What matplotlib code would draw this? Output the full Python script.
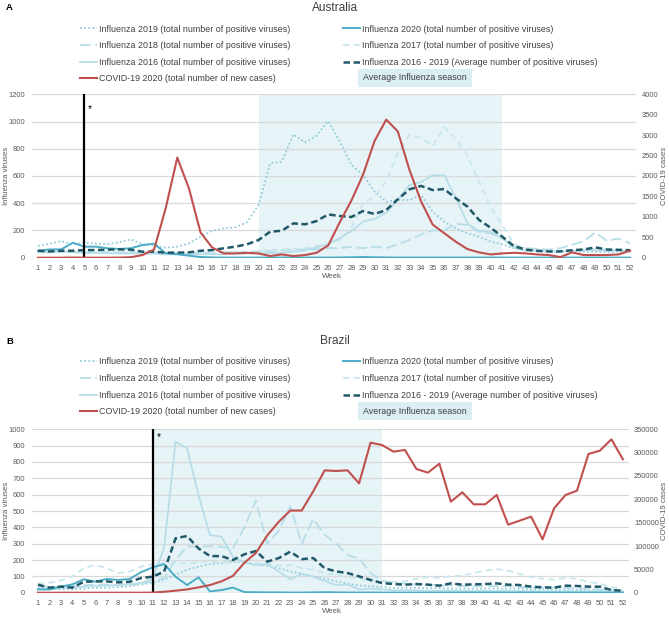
import matplotlib
matplotlib.use("Agg")
import matplotlib.pyplot as plt
from matplotlib import font_manager
import numpy as np

# ---- fonts ----
names = {f.name for f in font_manager.fontManager.ttflist}
if "Liberation Sans Narrow" in names:
    plt.rcParams["font.family"] = ["Liberation Sans Narrow", "DejaVu Sans"]
    fs = 7.8
else:
    plt.rcParams["font.family"] = ["Liberation Sans", "DejaVu Sans"]
    fs = 6.4

weeks = np.arange(1, 53)

# ---- Australia ----
aus_2019 = [86, 103, 122, 98, 110, 103, 100, 113, 135, 98,
            88, 73, 81, 105, 154, 198, 215, 223, 260, 387,
            693, 705, 906, 847, 896, 1004, 852, 681, 607, 485,
            411, 424, 424, 460, 338, 264, 215, 179, 154, 118,
            98, 69, 56, 51, 44, 44, 47, 44, 44, 39,
            44, 49]
aus_2018 = [45, 45, 45, 40, 40, 40, 40, 40, 40, 35,
            35, 35, 35, 35, 35, 35, 40, 40, 40, 45,
            50, 55, 60, 60, 60, 70, 70, 80, 70, 80,
            70, 100, 130, 170, 200, 200, 250, 240, 190, 180,
            140, 80, 70, 65, 60, 70, 95, 120, 185, 125,
            140, 105]
aus_2017 = [50, 45, 45, 45, 40, 40, 40, 40, 40, 40,
            40, 35, 35, 35, 40, 40, 40, 45, 45, 50,
            55, 60, 65, 70, 85, 100, 130, 220, 400, 450,
            560, 770, 900, 880, 820, 960, 870, 750, 560, 370,
            240, 100, 70, 60, 55, 50, 55, 60, 65, 60,
            55, 50]
aus_2016 = [40, 40, 45, 40, 35, 35, 35, 30, 30, 30,
            30, 25, 25, 25, 25, 25, 25, 30, 30, 30,
            35, 35, 45, 55, 75, 100, 145, 195, 265, 285,
            330, 425, 535, 555, 605, 605, 440, 250, 195, 190,
            145, 70, 50, 50, 45, 45, 50, 55, 55, 50,
            50, 45]
aus_2020 = [51, 61, 61, 110, 81, 81, 69, 64, 69, 93,
            103, 32, 25, 15, 5, 2, 1, 1, 1, 1,
            1, 1, 1, 1, 1, 1, 2, 3, 5, 3,
            2, 1, 1, 1, 1, 1, 1, 1, 1, 1,
            1, 1, 1, 1, 1, 1, 1, 1, 1, 1,
            1, 1]
aus_avg = [51, 46, 51, 51, 56, 56, 59, 61, 59, 44,
           44, 37, 37, 39, 51, 56, 69, 81, 98, 130,
           191, 198, 252, 245, 269, 318, 306, 299, 343, 321,
           350, 429, 502, 527, 497, 504, 436, 375, 277, 220,
           154, 85, 60, 50, 46, 46, 55, 60, 76, 60,
           58, 55]
aus_covid = [0, 0, 0, 4, 1, 0, 0, 3, 12, 65,
             200, 1210, 2450, 1700, 620, 250, 105, 105, 120, 105,
             40, 80, 40, 65, 120, 300, 870, 1400, 2030, 2860,
             3380, 3090, 2150, 1380, 810, 600, 390, 210, 130, 80,
             105, 120, 105, 80, 65, 15, 130, 65, 65, 65,
             80, 170]

# ---- Brazil ----
bra_2019 = [25, 25, 20, 20, 25, 30, 30, 35, 40, 50,
            60, 80, 110, 140, 160, 175, 180, 190, 185, 175,
            165, 150, 130, 115, 100, 85, 70, 55, 45, 40,
            35, 30, 30, 30, 28, 28, 25, 25, 25, 25,
            25, 25, 25, 22, 20, 20, 18, 18, 15, 15,
            12, 10]
bra_2018 = [40, 35, 35, 40, 45, 50, 50, 45, 45, 55,
            70, 90, 200, 285, 280, 285, 280, 270, 400, 565,
            300, 380, 530, 300, 450, 355, 300, 230, 210, 120,
            75, 60, 55, 50, 50, 45, 45, 40, 40, 40,
            40, 40, 35, 30, 30, 30, 30, 25, 25, 20,
            20, 15]
bra_2017 = [55, 60, 75, 100, 150, 170, 150, 120, 130, 160,
            175, 180, 180, 180, 185, 185, 185, 190, 185, 180,
            180, 165, 170, 150, 140, 120, 110, 95, 85, 75,
            70, 65, 70, 85, 95, 90, 100, 105, 120, 135,
            145, 135, 115, 95, 85, 80, 90, 85, 65, 55,
            35, 25]
bra_2016 = [27, 20, 27, 33, 37, 43, 43, 47, 53, 60,
            85, 275, 924, 883, 598, 353, 343, 220, 184, 169,
            175, 129, 82, 114, 98, 71, 47, 50, 20, 25,
            20, 15, 15, 15, 12, 12, 12, 10, 10, 10,
            10, 10, 10, 10, 8, 8, 8, 8, 8, 8,
            8, 5]
bra_2020 = [20, 20, 37, 51, 82, 67, 84, 78, 84, 126,
            155, 175, 98, 47, 94, 8, 16, 31, 4, 3,
            2, 2, 1, 1, 2, 3, 2, 1, 1, 1,
            1, 1, 1, 1, 1, 1, 1, 1, 1, 1,
            1, 1, 1, 1, 1, 1, 1, 1, 1, 1,
            1, 1]
bra_avg = [49, 31, 37, 31, 67, 69, 69, 63, 67, 90,
           98, 129, 333, 347, 271, 224, 224, 200, 235, 255,
           190, 212, 251, 205, 212, 150, 130, 120, 100, 78,
           59, 53, 49, 53, 49, 43, 57, 49, 51, 53,
           57, 49, 47, 37, 33, 31, 43, 41, 37, 37,
           16, 12]
bra_covid = [0, 0, 0, 0, 0, 0, 0, 0, 1, 20,
             200, 2000, 4300, 7100, 11400, 16400, 24300, 36000, 64000, 85000,
             123000, 152000, 176000, 176000, 217000, 262000, 260700, 262100, 234300, 321400,
             316400, 302100, 305700, 265000, 257100, 276400, 195000, 215000, 189300, 189300,
             209300, 145700, 154300, 162900, 114300, 180700, 209300, 218600, 297100, 304300,
             328600, 285700]

labels = ["Influenza 2019 (total number of positive viruses)",
          "Influenza 2018 (total number of positive viruses)",
          "Influenza 2016 (total number of positive viruses)",
          "COVID-19 2020 (total number of new cases)",
          "Influenza 2020 (total number of positive viruses)",
          "Influenza 2017 (total number of positive viruses)",
          "Influenza 2016 - 2019 (Average number of positive viruses)"]

W, H = 669, 618
fig = plt.figure(figsize=(W / 100, H / 100), dpi=100)
tick_col = "#595959"


def panel(rect, series, covid, ymax, ystep, cmax, cstep, season, vweek, star,
          title, letter, top):
    s2019, s2018, s2017, s2016, s2020, savg = series
    ax = fig.add_axes(rect)
    ax.axvspan(season[0], season[1], color="#DAEEF3", alpha=0.65, lw=0, zorder=0)
    ax.set_axisbelow(True)
    ax.grid(axis="y", color="#D9D9D9", lw=0.9)
    h19, = ax.plot(weeks, s2019, color="#92CDDC", lw=1.3, dashes=(1, 1.3))
    h18, = ax.plot(weeks, s2018, color="#B7DEE8", lw=1.3, dashes=(6, 2.4))
    h17, = ax.plot(weeks, s2017, color="#C8E6EE", lw=1.3, dashes=(3.5, 2.4))
    h16, = ax.plot(weeks, s2016, color="#B7DEE8", lw=1.3)
    h20, = ax.plot(weeks, s2020, color="#4BACC6", lw=1.4)
    hav, = ax.plot(weeks, savg, color="#215968", lw=1.8, dashes=(2.6, 1.4))
    ax.axvline(vweek, color="black", lw=1.6, zorder=6)
    ax.text(star[0], star[1], "*", fontsize=fs + 1, ha="center", va="center")
    ax.set_xlim(0.5, 52.5)
    ax.set_ylim(0, ymax)
    ax.set_yticks(np.arange(0, ymax + 1, ystep))
    ax.set_xticks(weeks)
    ax.tick_params(length=0, labelsize=fs - 1.0, colors=tick_col, pad=5)
    for s in ax.spines.values():
        s.set_visible(False)

    ax2 = ax.twinx()
    hcv, = ax2.plot(weeks, covid, color="#C0504D", lw=1.5)
    ax2.set_ylim(0, cmax)
    ct = np.arange(0, cmax + 1, cstep)
    ax2.set_yticks(ct, [str(int(t)) for t in ct])
    ax2.tick_params(length=0, labelsize=fs - 1.0, colors=tick_col, pad=4)
    for s in ax2.spines.values():
        s.set_visible(False)

    # texts (pixel positions converted to figure fraction)
    fig.text(6 / W, 1 - top / H, letter, fontsize=fs + 0.4, fontweight="bold",
             ha="left", va="center")
    fig.text(335 / W, 1 - top / H, title, fontsize=fs + 2.2, color="#404040",
             ha="center", va="center")
    handles = [h19, h18, h16, hcv, h20, h17, hav]
    fig.legend(handles, labels, loc="upper left",
               bbox_to_anchor=(80 / W, 1 - (top + 16.5) / H), ncol=2,
               frameon=False, fontsize=fs, handlelength=1.9,
               handletextpad=0.2, columnspacing=6.0, labelspacing=0.86,
               borderpad=0, borderaxespad=0, labelcolor="#404040")
    fig.text(415 / W, 1 - (top + 70) / H, "Average Influenza season",
             fontsize=fs, color="#404040", ha="center", va="center",
             bbox=dict(boxstyle="square,pad=0.55", fc="#DAEEF3", ec="none"))
    b = rect[1] * H
    t = (rect[1] + rect[3]) * H
    fig.text(7 / W, (b + t) / 2 / H, "Influenza viruses", rotation=90,
             fontsize=fs - 0.8, color=tick_col, ha="center", va="center")
    fig.text(665 / W, (b + t) / 2 / H, "COVID-19 cases", rotation=90,
             fontsize=fs - 0.8, color=tick_col, ha="center", va="center")
    fig.text(332 / W, (b - 19) / H, "Week", fontsize=fs - 0.8,
             color=tick_col, ha="center", va="center")
    return ax


panel([32.2 / W, 1 - 257.7 / H, 603.6 / W, 163.4 / H],
      [aus_2019, aus_2018, aus_2017, aus_2016, aus_2020, aus_avg], aus_covid,
      1200, 200, 4000, 500, (20, 41), 5, (5.5, 1095), "Australia", "A", 8)

panel([32.2 / W, 1 - 592.7 / H, 596.4 / W, 163.4 / H],
      [bra_2019, bra_2018, bra_2017, bra_2016, bra_2020, bra_avg], bra_covid,
      1000, 100, 350000, 50000, (11, 31), 11, (11.5, 950), "Brazil", "B", 341)

fig.savefig("out.png", dpi=100)
